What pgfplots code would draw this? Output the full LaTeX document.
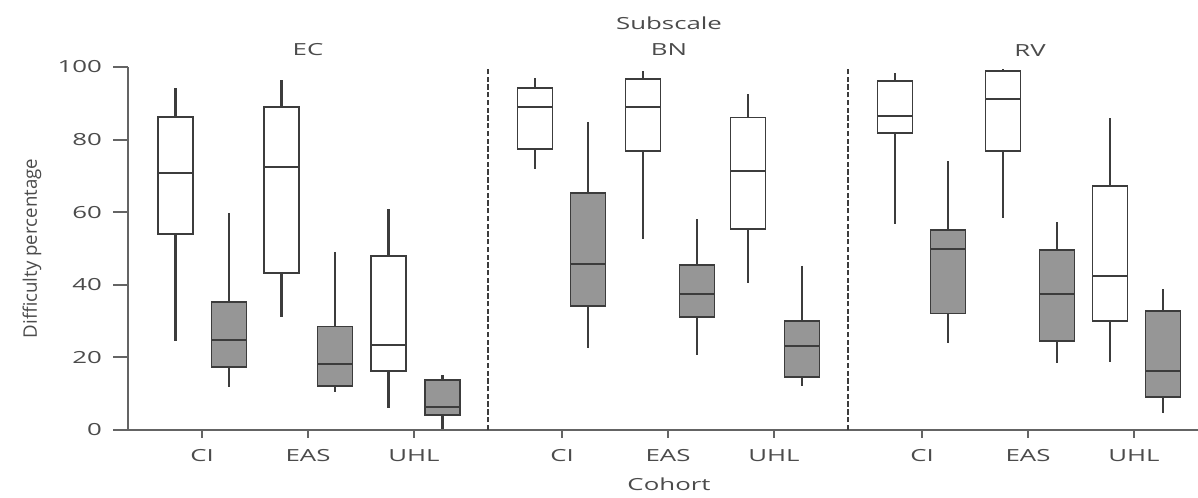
\documentclass[border=0pt]{standalone}
\usepackage{pgfplots}
\pgfplotsset{compat=1.18}
\usepgfplotslibrary{statistics}
\usepackage{fontspec}
\setmainfont{Open Sans}[FakeStretch=1.55]
\newfontfamily\ylfont{Open Sans}
\definecolor{boxline}{RGB}{60,60,60}
\definecolor{boxfill}{RGB}{150,150,150}
\definecolor{axline}{RGB}{100,100,100}
\definecolor{txt}{RGB}{75,75,75}
\pgfplotsset{
  wbox/.style={solid, draw=boxline, fill=white, line width=1.4pt, mark=none},
  gbox/.style={solid, draw=boxline, fill=boxfill, line width=1.4pt, mark=none},
  boxplot/every whisker/.style={line width=1.7pt, draw=boxline},
  boxplot/every median/.style={line width=1.4pt, draw=boxline},
}
\newcommand{\bx}[7]{% style, pos, lw, lq, med, uq, uw
  \addplot+[#1, boxplot prepared={draw direction=y, draw position=#2, lower whisker=#3, lower quartile=#4, median=#5, upper quartile=#6, upper whisker=#7, box extend=35, whisker extend=0}] coordinates {};
}
\begin{document}
\begin{tikzpicture}
\begin{axis}[
  name=ax,
  scale only axis,
  width=802.5pt, height=272.25pt,
  xmin=0, xmax=1070, ymin=0, ymax=100,
  clip=false,
  axis x line*=bottom, axis y line*=left,
  axis line style={draw=axline, line width=1.6pt},
  ytick={0,20,40,60,80,100},
  xtick={74,180,286,434,540,646,794,900,1006},
  xticklabels={CI,EAS,UHL,CI,EAS,UHL,CI,EAS,UHL},
  tick align=outside,
  major tick length=11pt,
  ytick style={draw=axline, line width=1.4pt},
  xtick style={draw=none},
  /pgf/number format/assume math mode=true,
  tick label style={font=\fontsize{12.5}{15}\selectfont, text=txt},
  yticklabel style={xshift=-5pt},
  xticklabel style={anchor=center, yshift=-8.5pt},
  ylabel={\ylfont Difficulty percentage},
  ylabel style={font=\fontsize{14}{16}\selectfont, text=txt, at={(axis description cs:-0.0897,0.5)}, anchor=center},
  xlabel={Cohort},
  xlabel style={font=\fontsize{12.5}{15}\selectfont, text=txt, at={(axis cs:541,-14.9)}, anchor=center},
  cycle list={{boxline}},
]
% EC
\bx{wbox}{47.5}{24.5}{54.0}{70.8}{86.2}{94.2}
\bx{gbox}{101}{11.9}{17.3}{24.8}{35.3}{59.8}
\bx{wbox}{153.5}{31.2}{43.2}{72.4}{88.9}{96.4}
\bx{gbox}{207}{10.6}{12.2}{18.2}{28.5}{49.1}
\bx{wbox}{260.5}{6.1}{16.3}{23.3}{48.0}{60.9}
\bx{gbox}{314.5}{0.2}{4.1}{6.4}{13.8}{15.2}
% BN
\bx{wbox}{407}{71.9}{77.4}{88.9}{94.3}{96.9}
\bx{gbox}{460}{22.5}{34.2}{45.7}{65.2}{84.9}
\bx{wbox}{515}{52.6}{76.9}{88.9}{96.7}{99.0}
\bx{gbox}{569}{20.7}{31.2}{37.4}{45.5}{58.0}
\bx{wbox}{620}{40.4}{55.4}{71.4}{86.1}{92.6}
\bx{gbox}{674}{12.2}{14.5}{23.1}{30.0}{45.3}
% RV
\bx{wbox}{767}{56.7}{81.7}{86.5}{96.1}{98.4}
\bx{gbox}{820}{23.9}{32.1}{49.8}{55.1}{74.1}
\bx{wbox}{875}{58.3}{76.9}{91.2}{99.0}{99.5}
\bx{gbox}{929}{18.5}{24.6}{37.4}{49.6}{57.2}
\bx{wbox}{982}{18.8}{30.0}{42.5}{67.3}{85.9}
\bx{gbox}{1035}{4.6}{9.2}{16.3}{32.8}{38.8}
% separators
\addplot[draw=boxline, line width=1.8pt, dash pattern=on 4pt off 1.8pt] coordinates {(360,0) (360,100)};
\addplot[draw=boxline, line width=1.8pt, dash pattern=on 4pt off 1.8pt] coordinates {(720,0) (720,100)};
% x ticks
\foreach \t in {74,180,286,434,540,646,794,900,1006}{
  \edef\tmp{\noexpand\draw[draw=axline, line width=1.4pt] (axis cs:\t,0) -- ++(0,-6pt);}\tmp
}
% titles
\node[font=\fontsize{12.5}{15}\selectfont, text=txt] at (axis cs:541,112.1) {Subscale};
\node[font=\fontsize{12.5}{15}\selectfont, text=txt] at (axis cs:180,104.7) {EC};
\node[font=\fontsize{12.5}{15}\selectfont, text=txt] at (axis cs:541,104.7) {BN};
\node[font=\fontsize{12.5}{15}\selectfont, text=txt] at (axis cs:902,104.4) {RV};
\end{axis}
\pgfresetboundingbox
\path ([xshift=-96pt,yshift=-50.25pt]ax.south west) rectangle ([yshift=50.25pt]ax.north east);
\end{tikzpicture}
\end{document}
